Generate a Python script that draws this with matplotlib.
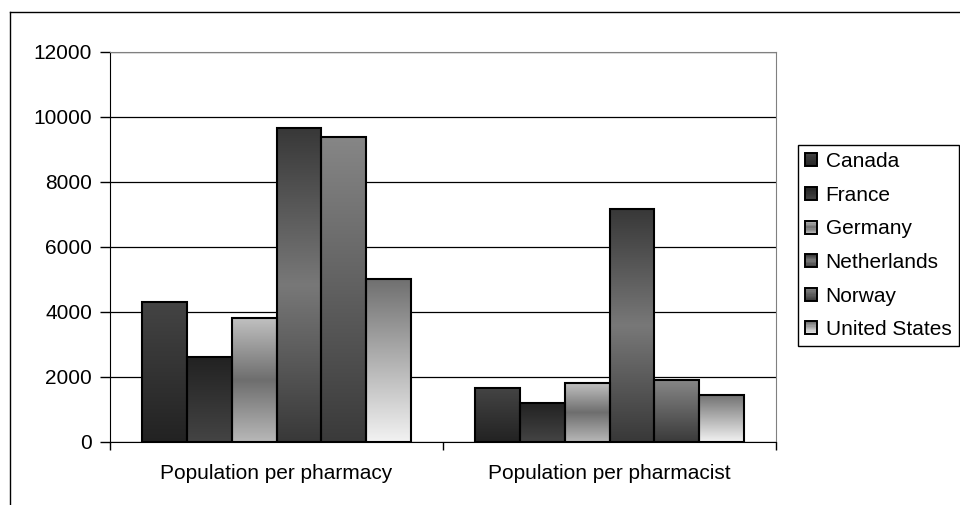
import numpy as np
import matplotlib
matplotlib.use('Agg')
import matplotlib.pyplot as plt
from matplotlib.colors import LinearSegmentedColormap
from matplotlib.patches import Rectangle, Patch
from matplotlib.lines import Line2D
from matplotlib.legend_handler import HandlerBase

plt.rcParams['font.family'] = ['Liberation Sans', 'DejaVu Sans']
plt.rcParams['font.size'] = 15

categories = ['Population per pharmacy', 'Population per pharmacist']
countries = ['Canada', 'France', 'Germany', 'Netherlands', 'Norway', 'United States']
canada = [4300, 1650]
france = [2600, 1200]
germany = [3800, 1800]
netherlands = [9640, 7150]
norway = [9380, 1900]
united_states = [5000, 1450]
series = [canada, france, germany, netherlands, norway, united_states]

# fill gradients, listed bottom -> top
shades = [
    ['#222222', '#444444'],
    ['#444444', '#222222'],
    ['#b8b8b8', '#6e6e6e', '#c0c0c0'],
    ['#383838', '#787878', '#383838'],
    ['#3a3a3a', '#868686'],
    ['#f2f2f2', '#707070'],
]
cmaps = [LinearSegmentedColormap.from_list(c, s) for c, s in zip(countries, shades)]


class GradientHandler(HandlerBase):
    def __init__(self, cmap):
        super().__init__()
        self.cmap = cmap

    def create_artists(self, legend, orig_handle, xdescent, ydescent,
                       width, height, fontsize, trans):
        n = 10
        out = []
        for i in range(n):
            out.append(Rectangle((-xdescent, -ydescent + i * height / n), width, height / n,
                                 facecolor=self.cmap((i + 0.5) / n), edgecolor='none',
                                 transform=trans))
        out.append(Rectangle((-xdescent, -ydescent), width, height, facecolor='none',
                             edgecolor='black', lw=1.4, transform=trans))
        return out


fig = plt.figure(figsize=(9.6, 5.05), dpi=100)
ax = fig.add_axes([110 / 960, 1 - 441.7 / 505, 666 / 960, 390 / 505])

x = np.arange(len(categories)) + 0.5
n = len(series)
width = 0.806 / n
grad = np.linspace(0, 1, 256)[:, None]

for i, (vals, cmap) in enumerate(zip(series, cmaps)):
    lefts = x - 0.403 + i * width
    for left, v in zip(lefts, vals):
        ax.imshow(grad, cmap=cmap, origin='lower', aspect='auto',
                  extent=[left, left + width, 0, v], zorder=2, interpolation='bilinear')
    ax.bar(lefts, vals, width, align='edge', facecolor='none',
           edgecolor='black', linewidth=1.5, zorder=3)

ax.set_xlim(0, len(categories))
ax.set_ylim(0, 12000)
ax.set_yticks(np.arange(0, 12001, 2000))
ax.yaxis.grid(True, color='black', linewidth=0.9)
ax.set_axisbelow(True)

ax.set_xticks(np.arange(len(categories) + 1))
ax.set_xticklabels([])
ax.set_xticks(x, minor=True)
ax.set_xticklabels(categories, minor=True)
ax.tick_params(axis='x', which='major', direction='out', length=6, width=1)
ax.tick_params(axis='x', which='minor', length=0, pad=16)
ax.tick_params(axis='y', direction='out', length=7, width=1, pad=6)

for side in ['top', 'right']:
    ax.spines[side].set_color('#808080')
for side in ['left', 'bottom']:
    ax.spines[side].set_color('black')

handles = [Patch(label=c) for c in countries]
fig.legend(handles=handles, labels=countries,
           handler_map={h: GradientHandler(c) for h, c in zip(handles, cmaps)},
           loc='upper left', bbox_to_anchor=(798 / 960, 1 - 145 / 505),
           borderaxespad=0, borderpad=0.35, handlelength=0.58, handleheight=0.58,
           handletextpad=0.4, labelspacing=0.7, fancybox=False, framealpha=1,
           edgecolor='black', fontsize=15)

# chart area border
fig.add_artist(Line2D([10 / 960, 10 / 960], [0, 1 - 12 / 505], transform=fig.transFigure,
                      color='black', linewidth=1))
fig.add_artist(Line2D([10 / 960, 1], [1 - 12 / 505, 1 - 12 / 505], transform=fig.transFigure,
                      color='black', linewidth=1))

fig.savefig('out.png', dpi=100)
